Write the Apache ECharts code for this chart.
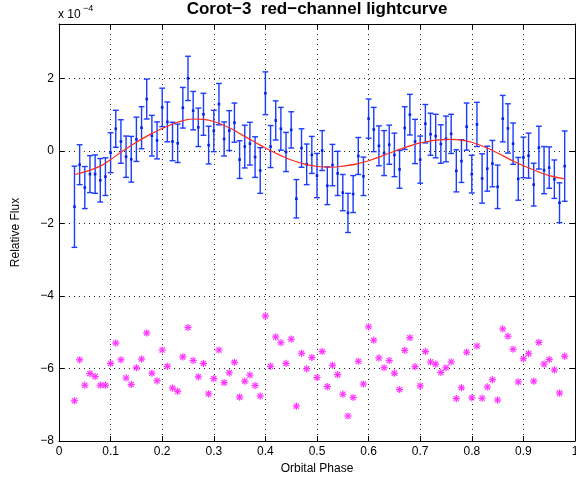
<!DOCTYPE html>
<html><head><meta charset="utf-8">
<script src="https://cdn.jsdelivr.net/npm/echarts@6/dist/echarts.min.js"></script>
<style>html,body{margin:0;padding:0;background:#fff}#c{width:576px;height:477px}</style>
</head><body><div id="c"></div>
<script>
// Values in units of 1e-4 (relative flux)
const phase = [0.03,0.04,0.05,0.06,0.07,0.08,0.09,0.10,0.11,0.12,
  0.13,0.14,0.15,0.16,0.17,0.18,0.19,0.20,0.21,0.22,
  0.23,0.24,0.25,0.26,0.27,0.28,0.29,0.30,0.31,0.32,
  0.33,0.34,0.35,0.36,0.37,0.38,0.39,0.40,0.41,0.42,
  0.43,0.44,0.45,0.46,0.47,0.48,0.49,0.50,0.51,0.52,
  0.53,0.54,0.55,0.56,0.57,0.58,0.59,0.60,0.61,0.62,
  0.63,0.64,0.65,0.66,0.67,0.68,0.69,0.70,0.71,0.72,
  0.73,0.74,0.75,0.76,0.77,0.78,0.79,0.80,0.81,0.82,
  0.83,0.84,0.85,0.86,0.87,0.88,0.89,0.90,0.91,0.92,
  0.93,0.94,0.95,0.96,0.97,0.98];
const flux = [-1.54,-0.38,-1.01,-0.64,-0.64,-0.81,-0.71,-0.05,0.61,0.26,
  -0.16,-0.23,0.32,0.64,1.43,0.42,0.29,1.20,0.80,0.26,
  0.21,1.19,2.00,1.11,0.65,1.01,0.16,0.55,1.29,0.33,
  0.56,0.78,-0.24,0.12,0.20,-0.17,-0.54,1.59,0.12,0.84,
  0.61,-0.03,0.58,-1.32,0.08,-0.37,-0.11,-0.68,0.01,-0.96,
  -0.39,-0.62,-1.15,-1.71,-1.19,-0.14,-0.70,0.89,0.59,0.14,
  -0.06,0.17,-0.11,-0.51,0.63,1.00,0.26,-0.24,0.75,0.46,
  0.41,0.19,0.33,0.47,-0.55,-0.28,0.67,-0.64,0.73,-0.76,
  -0.49,-0.35,-0.99,0.89,0.62,0.20,-0.77,-0.18,-0.13,-0.93,
  0.09,-0.53,-0.46,-0.78,-1.43,-0.42];
const fluxErr = [1.12,0.55,0.58,0.51,0.53,0.60,0.52,0.55,0.51,0.60,
  0.57,0.63,0.61,0.58,0.55,0.56,0.51,0.53,0.55,0.53,
  0.53,0.56,0.61,0.53,0.53,0.58,0.52,0.57,0.57,0.47,
  0.55,0.54,0.52,0.59,0.59,0.56,0.63,0.59,0.58,0.54,
  0.59,0.54,0.50,0.53,0.53,0.56,0.51,0.61,0.55,0.52,
  0.57,0.61,0.50,0.54,0.51,0.51,0.53,0.54,0.61,0.55,
  0.62,0.54,0.60,0.52,0.59,0.56,0.61,0.65,0.53,0.58,
  0.60,0.53,0.63,0.54,0.58,0.59,0.65,0.52,0.61,0.68,
  0.62,0.64,0.60,0.64,0.68,0.57,0.59,0.56,0.62,0.59,
  0.59,0.65,0.57,0.53,0.55,0.97];
const offsetFlux = [-6.89,-5.76,-6.46,-6.14,-6.22,-6.46,-6.46,-5.86,-5.30,-5.76,
  -6.26,-6.44,-5.98,-5.74,-5.02,-6.13,-6.34,-5.49,-5.94,-6.54,
  -6.63,-5.68,-4.87,-5.78,-6.23,-5.86,-6.70,-6.28,-5.49,-6.39,
  -6.12,-5.83,-6.79,-6.35,-6.18,-6.47,-6.76,-4.55,-5.94,-5.13,
  -5.29,-5.86,-5.19,-7.04,-5.58,-6.01,-5.70,-6.25,-5.53,-6.50,
  -5.91,-6.17,-6.71,-7.31,-6.80,-5.80,-6.43,-4.85,-5.22,-5.71,
  -5.98,-5.78,-6.13,-6.58,-5.50,-5.15,-5.95,-6.48,-5.53,-5.82,
  -5.88,-6.11,-5.98,-5.82,-6.83,-6.53,-5.55,-6.81,-5.38,-6.82,
  -6.51,-6.31,-6.87,-4.91,-5.11,-5.47,-6.37,-5.73,-5.59,-6.35,
  -5.28,-5.88,-5.75,-6.04,-6.68,-5.66];
const fitPhase = [0.03,0.05,0.08,0.10,0.12,0.15,0.18,0.20,0.23,0.26,0.28,0.30,0.33,0.35,0.38,0.40,0.43,0.45,0.48,0.50,
  0.53,0.55,0.58,0.60,0.63,0.65,0.68,0.70,0.73,0.76,0.78,0.80,0.83,0.85,0.88,0.90,0.93,0.95,0.98];
const fitFlux = [-0.65,-0.58,-0.42,-0.24,-0.04,0.24,0.48,0.62,0.79,0.88,0.87,0.81,0.64,0.48,0.24,0.08,-0.13,-0.25,-0.38,-0.43,
  -0.45,-0.42,-0.35,-0.27,-0.12,-0.01,0.14,0.22,0.30,0.32,0.30,0.24,0.08,-0.06,-0.28,-0.41,-0.58,-0.68,-0.77];
const xTicks = [0,0.1,0.2,0.3,0.4,0.5,0.6,0.7,0.8,0.9,1];
const yTicks = [-8,-6,-4,-2,0,2];

const FONT = '"Liberation Sans", Arial, Helvetica, sans-serif';
const chart = echarts.init(document.getElementById('c'), null, {renderer:'canvas'});
const gridLine = {show:true, lineStyle:{color:'#222', type:[1,4], width:1}};
const boxLine = {show:true, onZero:false, lineStyle:{color:'#000', width:1}};
const tick = {show:true, inside:true, length:5, lineStyle:{color:'#000', width:1}};
const minus = s => String(s).replace('-', '\u2212');

const errData = phase.map((p,i)=>[p, flux[i], fluxErr[i]]);
const astData = phase.map((p,i)=>[p, offsetFlux[i]]);
const fitData = fitPhase.map((p,i)=>[p, fitFlux[i]]);

const option = {
  animation:false,
  backgroundColor:'#fff',
  grid:{left:59, right:1, top:24, bottom:36, outerBoundsMode:'none', containLabel:false},
  graphic:[
    {type:'text', x:317, y:9, style:{text:'Corot\u22123  red\u2212channel lightcurve', font:'bold 17px '+FONT, fill:'#000', align:'center', verticalAlign:'middle'}},
    {type:'text', x:58, y:15, style:{text:'x 10', font:'12px '+FONT, fill:'#000', align:'left', verticalAlign:'middle'}},
    {type:'text', x:83, y:8.5, style:{text:'\u22124', font:'9px '+FONT, fill:'#000', align:'left', verticalAlign:'middle'}}
  ],
  xAxis:[
    {type:'value', min:0, max:1, interval:0.1, position:'bottom',
     axisLine:boxLine, axisTick:tick, splitLine:gridLine,
     axisLabel:{margin:5, color:'#000', fontSize:12, fontFamily:FONT,
       formatter:v=>String(+(+v).toFixed(1))},
     name:'Orbital Phase', nameLocation:'middle', nameGap:19,
     nameTextStyle:{color:'#000', fontSize:12, fontFamily:FONT}},
    {type:'value', min:0, max:1, interval:0.1, position:'top',
     axisLine:boxLine, axisTick:tick, splitLine:{show:false}, axisLabel:{show:false}}
  ],
  yAxis:[
    {type:'value', min:-8, max:3.5, interval:2, position:'left',
     axisLine:boxLine, axisTick:tick, splitLine:gridLine,
     axisLabel:{margin:5, color:'#000', fontSize:12, fontFamily:FONT, showMaxLabel:false,
       formatter:v=> yTicks.indexOf(v) >= 0 ? minus(v) : ''},
     name:'Relative Flux', nameLocation:'middle', nameGap:37,
     nameTextStyle:{color:'#000', fontSize:12, fontFamily:FONT}},
    {type:'value', min:-8, max:3.5, interval:2, position:'right',
     axisLine:boxLine, axisTick:tick, splitLine:{show:false}, axisLabel:{show:false}}
  ],
  series:[
    {type:'custom', name:'offset', xAxisIndex:0, yAxisIndex:0, data:astData, z:3,
     renderItem:(params, api)=>{
       const c = api.coord([api.value(0), api.value(1)]);
       const r = 3.6, d = 2.6;
       const st = {stroke:'#ff33ff', lineWidth:1.2};
       return {type:'group', children:[
         {type:'line', shape:{x1:c[0]-r,y1:c[1],x2:c[0]+r,y2:c[1]}, style:st},
         {type:'line', shape:{x1:c[0],y1:c[1]-r,x2:c[0],y2:c[1]+r}, style:st},
         {type:'line', shape:{x1:c[0]-d,y1:c[1]-d,x2:c[0]+d,y2:c[1]+d}, style:st},
         {type:'line', shape:{x1:c[0]-d,y1:c[1]+d,x2:c[0]+d,y2:c[1]-d}, style:st}
       ]};
     }},
    {type:'custom', name:'data', xAxisIndex:0, yAxisIndex:0, data:errData, z:4,
     renderItem:(params, api)=>{
       const x = api.value(0), y = api.value(1), e = api.value(2);
       const t = api.coord([x, y+e]), b = api.coord([x, y-e]), c = api.coord([x, y]);
       const hw = 2.9;
       const st = {stroke:'#1a3cff', lineWidth:1.4};
       return {type:'group', children:[
         {type:'line', shape:{x1:t[0],y1:t[1],x2:b[0],y2:b[1]}, style:st},
         {type:'line', shape:{x1:t[0]-hw,y1:t[1],x2:t[0]+hw,y2:t[1]}, style:st},
         {type:'line', shape:{x1:b[0]-hw,y1:b[1],x2:b[0]+hw,y2:b[1]}, style:st},
         {type:'rect', shape:{x:c[0]-1.3,y:c[1]-1.3,width:2.6,height:2.6}, style:{fill:'#0022ee'}}
       ]};
     }},
    {type:'line', name:'fit', xAxisIndex:0, yAxisIndex:0, data:fitData, smooth:0.4,
     showSymbol:false, symbol:'none', z:5,
     lineStyle:{color:'#ff2a1a', width:1.2}}
  ]
};
chart.setOption(option);
</script></body></html>
